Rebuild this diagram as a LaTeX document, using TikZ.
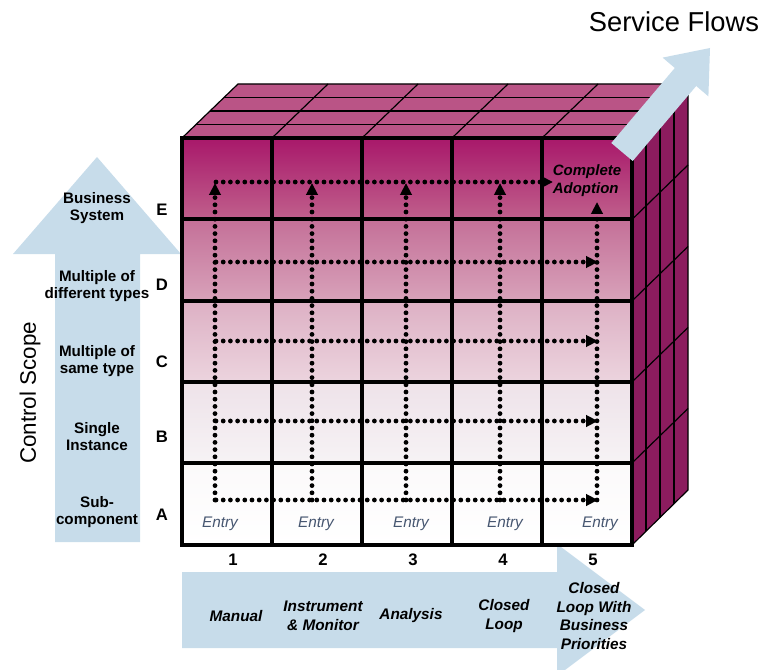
\documentclass[tikz,border=0pt]{standalone}
\usepackage{fontspec}
\setmainfont{Liberation Sans}
\usetikzlibrary{arrows.meta}
\definecolor{flow}{RGB}{199,220,234}
\definecolor{topc}{RGB}{186,84,134}
\definecolor{sidec}{RGB}{140,28,94}
\definecolor{rEt}{RGB}{168,24,106}
\definecolor{rEb}{RGB}{192,96,140}
\definecolor{rDt}{RGB}{196,112,152}
\definecolor{rDb}{RGB}{216,162,186}
\definecolor{rCt}{RGB}{221,176,196}
\definecolor{rCb}{RGB}{236,212,222}
\definecolor{rBt}{RGB}{238,226,233}
\definecolor{rBb}{RGB}{246,243,245}
\definecolor{rAt}{RGB}{251,249,250}
\definecolor{entryc}{RGB}{70,86,112}
\tikzset{
  thin edge/.style={draw=black, line width=0.9pt},
  grid edge/.style={draw=black, line width=3pt},
  dotarrow/.style={line width=3.6pt, line cap=round, dash pattern=on 0pt off 5.4pt,
     -{Triangle[length=9pt,width=8.5pt]}},
  sidelabel/.style={font=\fontsize{11.4}{12.75}\selectfont\bfseries, align=center},
  letterlabel/.style={font=\fontsize{12.5}{14}\selectfont\bfseries},
  numlabel/.style={font=\fontsize{12.5}{14}\selectfont\bfseries},
  bottomlabel/.style={font=\fontsize{11.5}{14}\selectfont\bfseries\itshape, align=center},
  entrylabel/.style={font=\fontsize{11.5}{14}\selectfont\itshape, text=entryc},
}
\begin{document}
\begin{tikzpicture}[x=0.75pt,y=-0.75pt]
\useasboundingbox (0,0) rectangle (763,670);

% left flow arrow (Control Scope)
\fill[flow] (55,542) -- (55,254) -- (13,254) -- (97,157) -- (181,254) -- (140,254) -- (140,542) -- cycle;
% bottom flow arrow
\fill[flow] (182,572) -- (557,572) -- (557,544) -- (645,610) -- (557,676) -- (557,648) -- (182,648) -- cycle;

% top face
\fill[topc] (182,138) -- (632,138) -- (688,84) -- (238,84) -- cycle;
\foreach \k in {1,2,3} {
  \draw[thin edge] ({182+14*\k},{138-13.5*\k}) -- ({632+14*\k},{138-13.5*\k});
}
\foreach \x in {272,362,452,542} {
  \draw[thin edge] (\x,138) -- ({\x+56},84);
}
\draw[thin edge] (182,138) -- (238,84) -- (688,84);

% right face
\fill[sidec] (632,138) -- (688,84) -- (688,490) -- (632,545) -- cycle;
\foreach \k in {1,2,3} {
  \draw[thin edge] ({632+14*\k},{138-13.5*\k}) -- ({632+14*\k},{545-13.75*\k});
}
\foreach \y in {219.5,301,382,463} {
  \draw[thin edge] (632,\y) -- (688,{\y-54.5});
}
\draw[thin edge] (632,138) -- (688,84) -- (688,490) -- (632,545);

% front face rows
\shade[top color=rEt, bottom color=rEb] (182,138) rectangle (632,219.5);
\shade[top color=rDt, bottom color=rDb] (182,219.5) rectangle (632,301);
\shade[top color=rCt, bottom color=rCb] (182,301) rectangle (632,382);
\shade[top color=rBt, bottom color=rBb] (182,382) rectangle (632,463);
\shade[top color=rAt, bottom color=white] (182,463) rectangle (632,545);
\foreach \y in {219.5,301,382,463} {
  \draw[grid edge] (182,\y) -- (632,\y);
}
\foreach \x in {272,362,452,542} {
  \draw[grid edge] (\x,138) -- (\x,545);
}
\draw[grid edge, line join=miter] (182,138) rectangle (632,545);

% service flows arrow
\fill[flow] (611.3,143) -- (674.8,68) -- (662.6,57.6) -- (710,48) -- (708.4,96.4) -- (696.2,86) -- (632.7,161) -- cycle;

% dotted arrow coordinates
\coordinate (hE0) at (216,182); \coordinate (hE1) at (553,182);
\coordinate (hD0) at (216,262); \coordinate (hD1) at (598,262);
\coordinate (hC0) at (216,341); \coordinate (hC1) at (598,341);
\coordinate (hB0) at (216,421); \coordinate (hB1) at (598,421);
\coordinate (hA0) at (216,500); \coordinate (hA1) at (598,500);
\coordinate (v10) at (215,500); \coordinate (v11) at (215,183);
\coordinate (v20) at (312,500); \coordinate (v21) at (312,183);
\coordinate (v30) at (406,500); \coordinate (v31) at (406,183);
\coordinate (v40) at (500,500); \coordinate (v41) at (500,183);
\coordinate (v50) at (597,500); \coordinate (v51) at (597,202);
\foreach \r in {E,D,C,B,A} { \draw[dotarrow] (h\r0) -- (h\r1); }
\foreach \c in {1,...,5} { \draw[dotarrow] (v\c0) -- (v\c1); }

% texts
\node[font=\fontsize{20.5}{24}\selectfont] (sf) at (674,22) {Service Flows};
\node[font=\fontsize{16.8}{20}\selectfont, rotate=90] (cs) at (30,393) {Control Scope};
\node[font=\fontsize{11.25}{13.5}\selectfont\bfseries\itshape, align=left] (ca) at (587,181) {Complete\\Adoption};

\node[sidelabel] (lE) at (97,208) {Business\\System};
\node[sidelabel] (lD) at (97,286) {Multiple of\\different types};
\node[sidelabel] (lC) at (97,361) {Multiple of\\same type};
\node[sidelabel] (lB) at (97,437) {Single\\Instance};
\node[sidelabel] (lA) at (97,512) {Sub-\\component};
\node[letterlabel] (kE) at (162,210) {E};
\node[letterlabel] (kD) at (162,285) {D};
\node[letterlabel] (kC) at (162,362) {C};
\node[letterlabel] (kB) at (162,437) {B};
\node[letterlabel] (kA) at (162,515) {A};

\node[numlabel] (n1) at (233,560) {1};
\node[numlabel] (n2) at (323,560) {2};
\node[numlabel] (n3) at (413,560) {3};
\node[numlabel] (n4) at (503,560) {4};
\node[numlabel] (n5) at (593,560) {5};

\node[bottomlabel] (b1) at (236,616) {Manual};
\node[bottomlabel] (b2) at (323,616) {Instrument\\\& Monitor};
\node[bottomlabel] (b3) at (411,616) {Analysis};
\node[bottomlabel] (b4) at (504,616) {Closed\\Loop};
\node[bottomlabel] (b5) at (594,616) {Closed\\Loop With\\Business\\Priorities};

\node[entrylabel] (e1) at (220,524) {Entry};
\node[entrylabel] (e2) at (316,524) {Entry};
\node[entrylabel] (e3) at (411,524) {Entry};
\node[entrylabel] (e4) at (505,524) {Entry};
\node[entrylabel] (e5) at (600,524) {Entry};
\end{tikzpicture}
\end{document}
